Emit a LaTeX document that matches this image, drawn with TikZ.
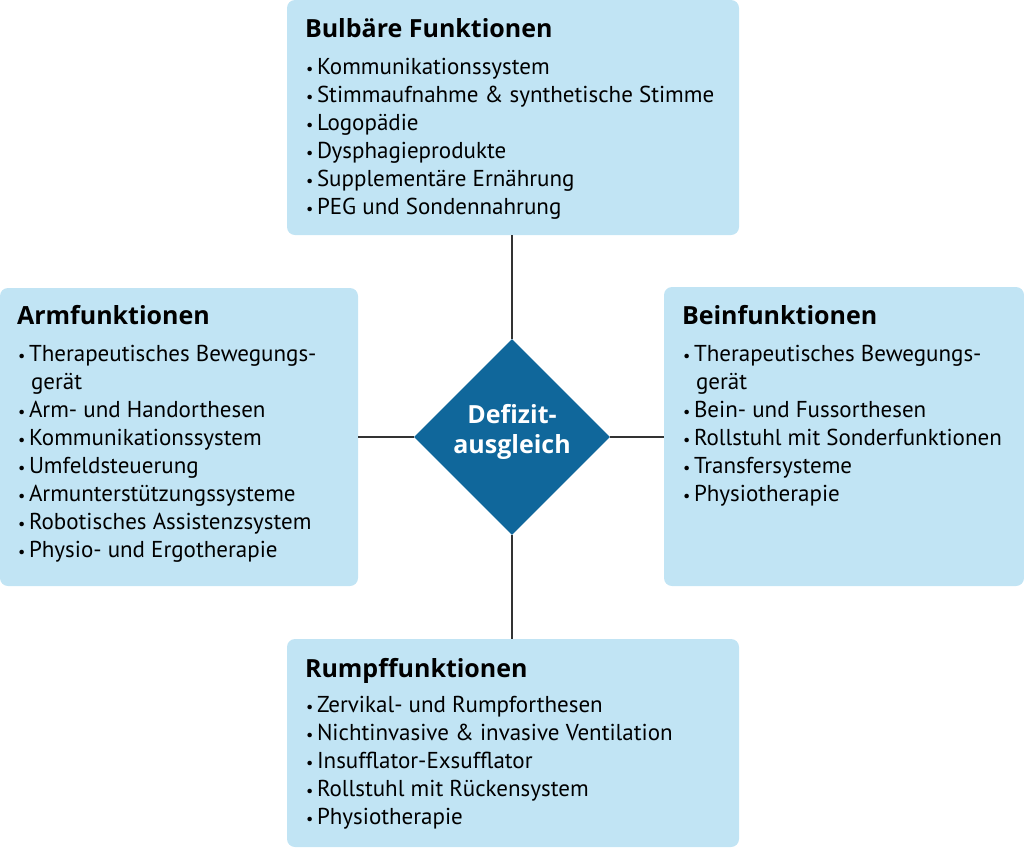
\documentclass[tikz,border=0pt]{standalone}
\usepackage{fontspec}
\usepackage{graphicx}
\setmainfont{PT Sans}
\newfontfamily\ttlfont{Open Sans}
\usetikzlibrary{shapes.geometric}
\definecolor{boxblue}{RGB}{193,228,244}
\definecolor{diablue}{RGB}{16,103,155}
\definecolor{linegray}{RGB}{51,51,51}
\newcommand{\itm}[1]{\makebox[12pt][l]{\hspace{1pt}\scalebox{0.7}{•}}#1}
\newcommand{\cont}[1]{\hspace{14pt}#1}
\tikzset{
  box/.style={fill=boxblue, rounded corners=8pt, inner sep=0pt, draw=none},
  ttl/.style={anchor=base west, inner sep=0pt, font=\ttlfont\bfseries\fontsize{25}{28}\selectfont},
  items/.style={anchor=base west, inner sep=0pt, font=\fontsize{23}{28}\selectfont},
  conn/.style={draw=linegray, line width=1.3pt},
  dtext/.style={anchor=base, inner sep=0pt, text=white, font=\ttlfont\bfseries\fontsize{25}{30}\selectfont}
}
\begin{document}
\begin{tikzpicture}[x=1pt,y=-1pt]
\useasboundingbox (0,0) rectangle (1024,847);
% boxes
\node[box, minimum width=452pt, minimum height=235pt] (bul) at (513,117.5) {};
\node[box, minimum width=358pt, minimum height=298pt] (arm) at (179,437) {};
\node[box, minimum width=360pt, minimum height=299pt] (bein) at (844,436.5) {};
\node[box, minimum width=452pt, minimum height=208pt] (rum) at (513,743) {};
% diamond
\node[diamond, aspect=1, fill=diablue, inner sep=0pt, minimum width=196pt, minimum height=196pt] (dia) at (512,437) {};
\node[dtext] (dtxt) at (512,423) {\begin{tabular}[t]{@{}c@{}}Defizit-\\ausgleich\end{tabular}};
% connectors
\draw[conn] (bul.south -| dia.north) -- (dia.north);
\draw[conn] (dia.south) -- (dia.south |- rum.north);
\draw[conn] (arm.east |- dia.west) -- (dia.west);
\draw[conn] (dia.east) -- (dia.east -| bein.west);
% texts: Bulbaere
\node[ttl] (bult) at ([shift={(18,38)}]bul.north west) {Bulbäre Funktionen};
\node[items] (buli) at ([shift={(18,75)}]bul.north west) {\begin{tabular}[t]{@{}l@{}}
\itm{Kommunikationssystem}\\
\itm{Stimmaufnahme \& synthetische Stimme}\\
\itm{Logopädie}\\
\itm{Dysphagieprodukte}\\
\itm{Supplementäre Ernährung}\\
\itm{PEG und Sondennahrung}
\end{tabular}};
% Arm
\node[ttl] (armt) at ([shift={(17,37)}]arm.north west) {Armfunktionen};
\node[items] (armi) at ([shift={(17,74)}]arm.north west) {\begin{tabular}[t]{@{}l@{}}
\itm{Therapeutisches Bewegungs-}\\
\cont{gerät}\\
\itm{Arm- und Handorthesen}\\
\itm{Kommunikationssystem}\\
\itm{Umfeldsteuerung}\\
\itm{Armunterstützungssysteme}\\
\itm{Robotisches Assistenzsystem}\\
\itm{Physio- und Ergotherapie}
\end{tabular}};
% Bein
\node[ttl] (beint) at ([shift={(18,38)}]bein.north west) {Beinfunktionen};
\node[items] (beini) at ([shift={(18,75)}]bein.north west) {\begin{tabular}[t]{@{}l@{}}
\itm{Therapeutisches Bewegungs-}\\
\cont{gerät}\\
\itm{Bein- und Fussorthesen}\\
\itm{Rollstuhl mit Sonderfunktionen}\\
\itm{Transfersysteme}\\
\itm{Physiotherapie}
\end{tabular}};
% Rumpf
\node[ttl] (rumt) at ([shift={(18,39)}]rum.north west) {Rumpffunktionen};
\node[items] (rumi) at ([shift={(18,74)}]rum.north west) {\begin{tabular}[t]{@{}l@{}}
\itm{Zervikal- und Rumpforthesen}\\
\itm{Nichtinvasive \& invasive Ventilation}\\
\itm{Insufflator-Exsufflator}\\
\itm{Rollstuhl mit Rückensystem}\\
\itm{Physiotherapie}
\end{tabular}};
\end{tikzpicture}
\end{document}
